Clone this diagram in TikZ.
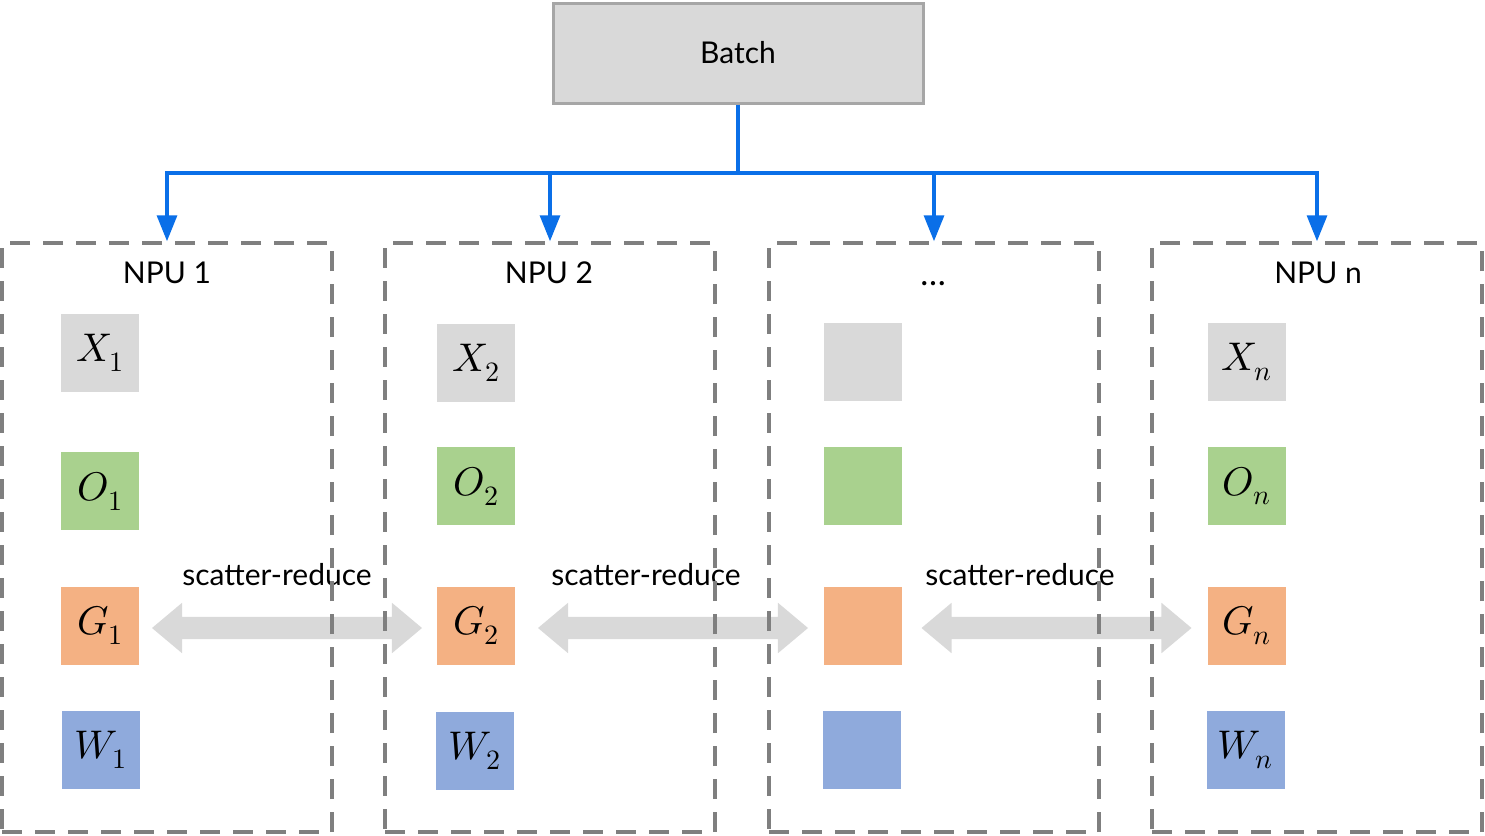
\documentclass[tikz,border=0pt]{standalone}
\usepackage{fontspec}
\usepackage{unicode-math}
\setmainfont{Lato}
\usetikzlibrary{arrows.meta,shapes.arrows}

\definecolor{boxgray}{HTML}{D9D9D9}
\definecolor{edgegray}{HTML}{A6A6A6}
\definecolor{dashgray}{HTML}{7F7F7F}
\definecolor{feedblue}{HTML}{0A6FE8}
\definecolor{tgreen}{HTML}{A9D18E}
\definecolor{torange}{HTML}{F4B183}
\definecolor{tblue}{HTML}{8FAADC}

\tikzset{
  npubox/.style={draw=dashgray, line width=3.5pt, dash pattern=on 20pt off 13pt,
    minimum width=330pt, minimum height=589pt, inner sep=0pt},
  tensor/.style={minimum size=78pt, inner sep=0pt, font=\fontsize{40}{48}\selectfont},
  feed/.style={draw=feedblue, line width=3.3pt},
  sharrow/.style={double arrow, fill=boxgray, inner sep=11pt, minimum height=270pt,
    double arrow head extend=14pt, double arrow tip angle=80},
  lbl/.style={font=\fontsize{30}{36}\selectfont}
}

\begin{document}
\begin{tikzpicture}[x=1pt,y=-1pt]
                \useasboundingbox (0,0) rectangle (1485,835);

                \node[draw=edgegray, line width=3pt, fill=boxgray, minimum width=370pt,
                      minimum height=100pt, lbl] (batch) at (738,53) {Batch};
                \coordinate (hub) at (738,173);

                % reduce arrows go under the dashed frames
                \node[sharrow] (sr1) at (287,628) {};
                \node[sharrow] (sr2) at (673,628) {};
                \node[sharrow] (sr3) at (1056.5,628) {};
                \node[lbl] (srl1) at (277,575) {scatter-reduce};
                \node[lbl] (srl2) at (646,575) {scatter-reduce};
                \node[lbl] (srl3) at (1020,575) {scatter-reduce};

                \node[npubox] (npu1) at (167,537.5) {};
                \node[npubox] (npu2) at (550,537.5) {};
                \node[npubox] (npu3) at (934,537.5) {};
                \node[npubox] (npu4) at (1317,537.5) {};

                \node[lbl] (name1) at (167,273) {NPU 1};
                \node[lbl] (name2) at (549,273) {NPU 2};
                \node[lbl, font=\fontsize{34}{40}\selectfont] (name3) at (933,284) {\dots};
                \node[lbl] (name4) at (1318,273) {NPU n};

                \draw[feed] (batch.south) -- (hub);
                \draw[feed, -{Triangle[width=20pt,length=26pt]}] (hub) -| (npu1.north);
                \draw[feed, -{Triangle[width=20pt,length=26pt]}] (hub) -| (npu2.north);
                \draw[feed, -{Triangle[width=20pt,length=26pt]}] (hub) -| (npu3.north);
                \draw[feed, -{Triangle[width=20pt,length=26pt]}] (hub) -| (npu4.north);

                \node[tensor, fill=boxgray] (x1) at (100,353) {$X_1$};
                \node[tensor, fill=tgreen] (o1) at (100,491) {$O_1$};
                \node[tensor, fill=torange] (g1) at (100,625.5) {$G_1$};
                \node[tensor, fill=tblue] (w1) at (100.5,750) {$W_1$};

                \node[tensor, fill=boxgray] (x2) at (476,363) {$X_2$};
                \node[tensor, fill=tgreen] (o2) at (476,486) {$O_2$};
                \node[tensor, fill=torange] (g2) at (476,625.5) {$G_2$};
                \node[tensor, fill=tblue] (w2) at (475,751) {$W_2$};

                \node[tensor, fill=boxgray] (x3) at (862.5,362) {};
                \node[tensor, fill=tgreen] (o3) at (862.5,486) {};
                \node[tensor, fill=torange] (g3) at (862.5,625.5) {};
                \node[tensor, fill=tblue] (w3) at (861.5,750) {};

                \node[tensor, fill=boxgray] (x4) at (1246.5,362) {$X_n$};
                \node[tensor, fill=tgreen] (o4) at (1246.5,486) {$O_n$};
                \node[tensor, fill=torange] (g4) at (1246.5,625.5) {$G_n$};
                \node[tensor, fill=tblue] (w4) at (1245.5,750) {$W_n$};
            \end{tikzpicture}
\end{document}
